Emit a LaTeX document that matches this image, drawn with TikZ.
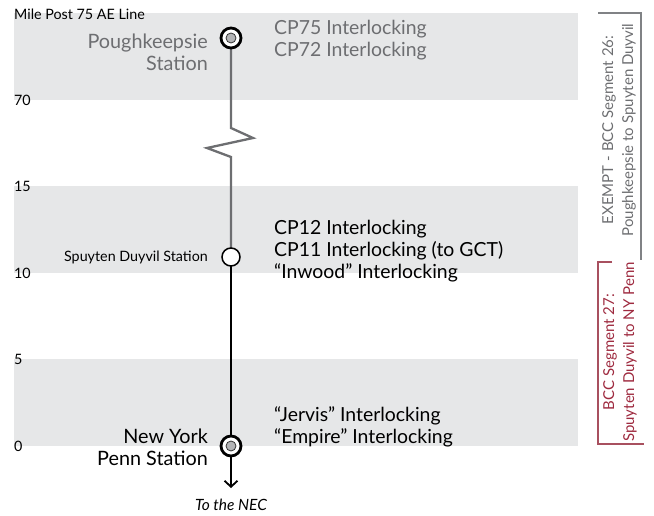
\documentclass[tikz,border=0pt]{standalone}
\usepackage{fontspec}
\setmainfont{Lato}
\usetikzlibrary{arrows.meta}
\definecolor{band}{HTML}{E6E7E8}
\definecolor{tgray}{HTML}{6D6E71}
\definecolor{lgray}{HTML}{808285}
\definecolor{maroon}{HTML}{9E2A3F}
\definecolor{rbox}{HTML}{A8505F}
\begin{document}
\begin{tikzpicture}[x=1pt,y=-1pt,
  bandbox/.style={fill=band,draw=none},
  axislabel/.style={anchor=west,inner sep=0pt,font=\fontsize{14.3}{16}\selectfont},
  bigtext/.style={inner sep=0pt,font=\fontsize{19.4}{22}\selectfont,align=left},
  stationtext/.style={inner sep=0pt,font=\fontsize{19.8}{22}\selectfont,align=right,anchor=east},
  segtext/.style={inner sep=0pt,font=\fontsize{15}{20}\selectfont,align=center,rotate=90}]
\useasboundingbox (0,0) rectangle (654,516);
% bands
\fill[band] (14,13) rectangle (578,100);
\fill[band] (14,186) rectangle (578,273);
\fill[band] (14,359) rectangle (578,446);
% axis labels
\node[axislabel] (mp) at (14,14) {Mile Post 75 AE Line};
\node[axislabel] (l70) at (14,100) {70};
\node[axislabel] (l15) at (14,186) {15};
\node[axislabel] (l10) at (14,273) {10};
\node[axislabel] (l5) at (14,359) {5};
\node[axislabel] (l0) at (14,446) {0};
% stations
\coordinate (pk) at (231,38);
\coordinate (sd) at (231,257);
\coordinate (ny) at (231,446);
\coordinate (z1) at (231,128);
\coordinate (z2) at (253,138);
\coordinate (z3) at (207,148);
\coordinate (z4) at (231,157);
\coordinate (nec) at (231,488);
\draw[tgray,line width=2.3pt] (pk) -- (z1) -- (z2) -- (z3) -- (z4) -- (sd);
\draw[black,line width=2.4pt] (sd) -- (ny);
\draw[black,line width=2.4pt,-{Straight Barb[length=6pt,width=13pt,line width=1.8pt]}] (ny) -- (nec);
% station markers
\node[circle,draw=black,line width=2.8pt,fill=white,minimum size=20pt,inner sep=0pt] (pkc) at (pk) {};
\node[circle,draw=black!80,line width=0.8pt,fill=lgray!60,minimum size=10pt,inner sep=0pt] (pki) at (pk) {};
\node[circle,draw=black,line width=1.5pt,fill=white,minimum size=18pt,inner sep=0pt] (sdc) at (sd) {};
\node[circle,draw=black,line width=2.8pt,fill=white,minimum size=20pt,inner sep=0pt] (nyc) at (ny) {};
\node[circle,draw=black!80,line width=0.8pt,fill=lgray!60,minimum size=10pt,inner sep=0pt] (nyi) at (ny) {};
% station labels
\node[stationtext,text=tgray] (pkl) at (208,52) {Poughkeepsie\\Station};
\node[inner sep=0pt,anchor=east,font=\fontsize{14.3}{16}\selectfont] (sdl) at (208,257) {Spuyten Duyvil Station};
\node[stationtext] (nyl) at (208,447) {New York\\Penn Station};
\node[inner sep=0pt,font=\itshape\fontsize{15.5}{17}\selectfont] (necl) at (231,505) {To the NEC};
% interlockings
\node[bigtext,anchor=west,text=tgray] (il1) at (274,40) {CP75 Interlocking\\CP72 Interlocking};
\node[bigtext,anchor=west] (il2) at (274,251) {CP12 Interlocking\\CP11 Interlocking (to GCT)\\“Inwood” Interlocking};
\node[bigtext,anchor=west] (il3) at (274,427) {“Jervis” Interlocking\\“Empire” Interlocking};
% segment brackets
\draw[lgray,line width=1.2pt] (598,13) -- (641,13) -- (641,260);
\draw[rbox,line width=1.2pt] (612,262) -- (598,262) -- (598,444) -- (644,444);
\node[segtext,text=tgray] (s26) at (619,130) {EXEMPT - BCC Segment 26:\\Poughkeepsie to Spuyten Duyvil};
\node[segtext,text=maroon] (s27) at (620,352) {BCC Segment 27:\\Spuyten Duyvil to NY Penn};
\end{tikzpicture}
\end{document}
